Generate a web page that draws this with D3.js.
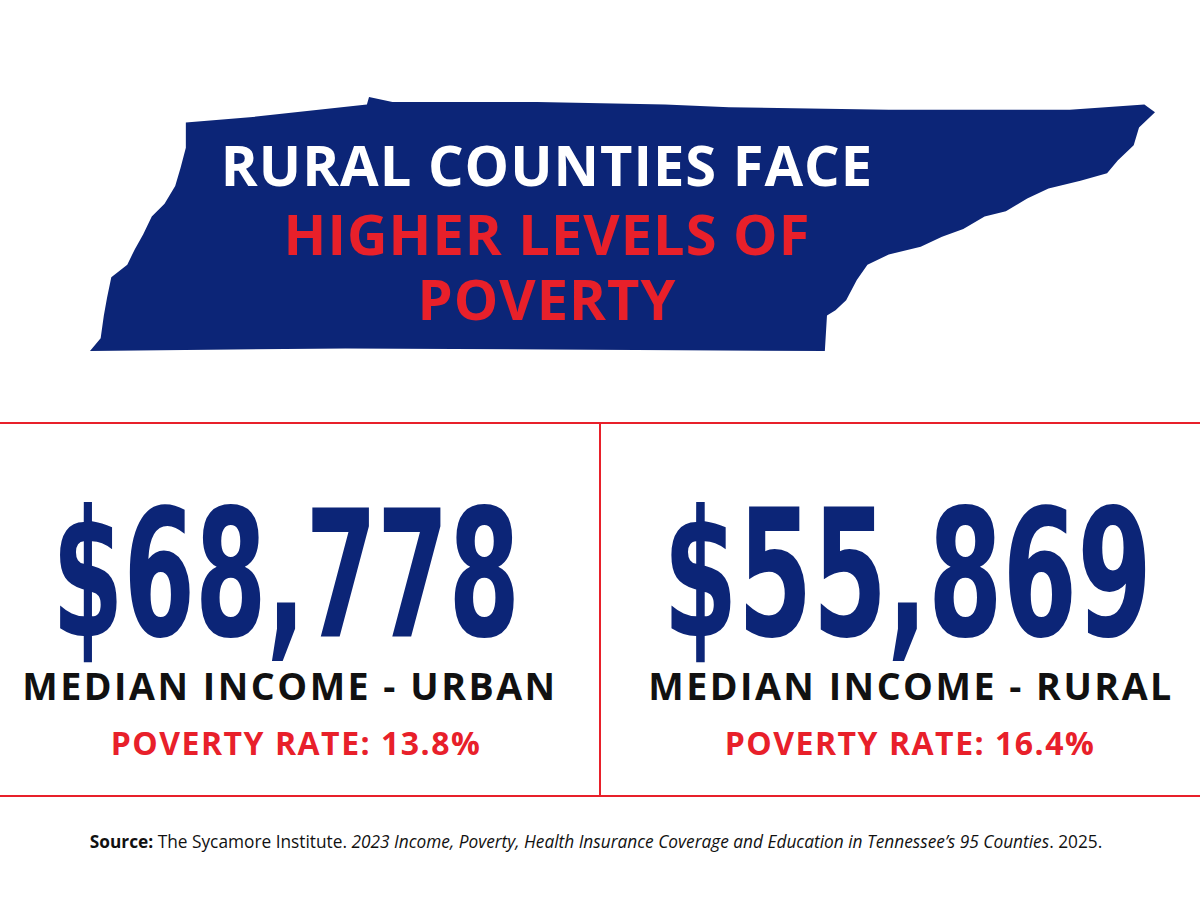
<!DOCTYPE html><html><head><meta charset="utf-8">
<script src="https://cdn.jsdelivr.net/npm/d3@7"></script>
<style>body{margin:0;background:#fff}</style></head><body>
<svg id="c" width="1200" height="900"></svg>
<script>
const titleLines=["RURAL COUNTIES FACE","HIGHER LEVELS OF","POVERTY"];
const categories=["MEDIAN INCOME - URBAN","MEDIAN INCOME - RURAL"];
const incomes=[68778,55869];
const povertyRates=[13.8,16.4];
const source={bold:"Source:",plain:" The Sycamore Institute. ",ital:"2023 Income, Poverty, Health Insurance Coverage and Education in Tennessee’s 95 Counties",end:". 2025."};
// state outline (decorative shape, normalized 0-1)
const outline=[[0,1],[.01,.95],[.013,.86],[.016,.79],[.02,.71],[.035,.66],[.042,.6],[.05,.54],[.058,.47],[.07,.42],[.08,.35],[.085,.28],[.09,.2],[.09,.1],[.15,.08],[.26,.03],[.262,0],[.284,.02],[.42,.02],[.54,.03],[.6,.04],[.75,.05],[.92,.05],[.99,.03],[1,.06],[.985,.12],[.98,.19],[.965,.25],[.955,.3],[.93,.33],[.9,.36],[.88,.4],[.86,.45],[.84,.47],[.82,.52],[.8,.55],[.78,.59],[.75,.62],[.73,.66],[.72,.72],[.71,.8],[.7,.84],[.692,.86],[.69,1],[.24,.99],[0,1]];
const navy="#0c2577",red="#e8202a";
const svg=d3.select("#c");
const sx=d3.scaleLinear().domain([0,1]).range([90,1155]);
const sy=d3.scaleLinear().domain([0,1]).range([97,351]);
svg.append("path").attr("d",d3.line().x(d=>sx(d[0])).y(d=>sy(d[1])).curve(d3.curveLinearClosed)(outline)).attr("fill",navy);
const ty=[186,255,320];
titleLines.forEach((t,i)=>svg.append("text").attr("x",547).attr("y",ty[i]).attr("text-anchor","middle")
 .attr("font-family","Open Sans").attr("font-weight",700).attr("font-size",56).attr("letter-spacing",1)
 .attr("fill",i==0?"#fff":red).text(t));
svg.append("line").attr("x1",0).attr("x2",1200).attr("y1",423).attr("y2",423).attr("stroke",red).attr("stroke-width",2);
svg.append("line").attr("x1",0).attr("x2",1200).attr("y1",796).attr("y2",796).attr("stroke",red).attr("stroke-width",2);
svg.append("line").attr("x1",600).attr("x2",600).attr("y1",423).attr("y2",796).attr("stroke",red).attr("stroke-width",2);
const fmt=d3.format("$,");
const numX=[[52,520],[663,1152]],lblC=[290,911],povC=[296,910];
categories.forEach((c,i)=>{
 svg.append("text").attr("x",numX[i][0]).attr("y",636).attr("textLength",numX[i][1]-numX[i][0]).attr("lengthAdjust","spacingAndGlyphs")
  .attr("font-family","DejaVu Sans Condensed, DejaVu Sans").attr("font-weight",700).attr("font-size",176).attr("fill",navy).text(fmt(incomes[i]));
 svg.append("text").attr("x",lblC[i]).attr("y",700).attr("text-anchor","middle").attr("font-family","Open Sans").attr("font-weight",700)
  .attr("font-size",37.6).attr("letter-spacing",2.5).attr("fill","#111").text(c);
 svg.append("text").attr("x",povC[i]).attr("y",755).attr("text-anchor","middle").attr("font-family","Open Sans").attr("font-weight",700)
  .attr("font-size",32).attr("letter-spacing",1.5).attr("fill",red).text("POVERTY RATE: "+povertyRates[i]+"%");
});
const s=svg.append("text").attr("x",596).attr("y",848).attr("text-anchor","middle").attr("font-family","Open Sans").attr("font-size",17.3).attr("fill","#111");
s.append("tspan").attr("font-weight",700).text(source.bold);
s.append("tspan").text(source.plain);
s.append("tspan").attr("font-style","italic").text(source.ital);
s.append("tspan").text(source.end);
</script></body></html>
